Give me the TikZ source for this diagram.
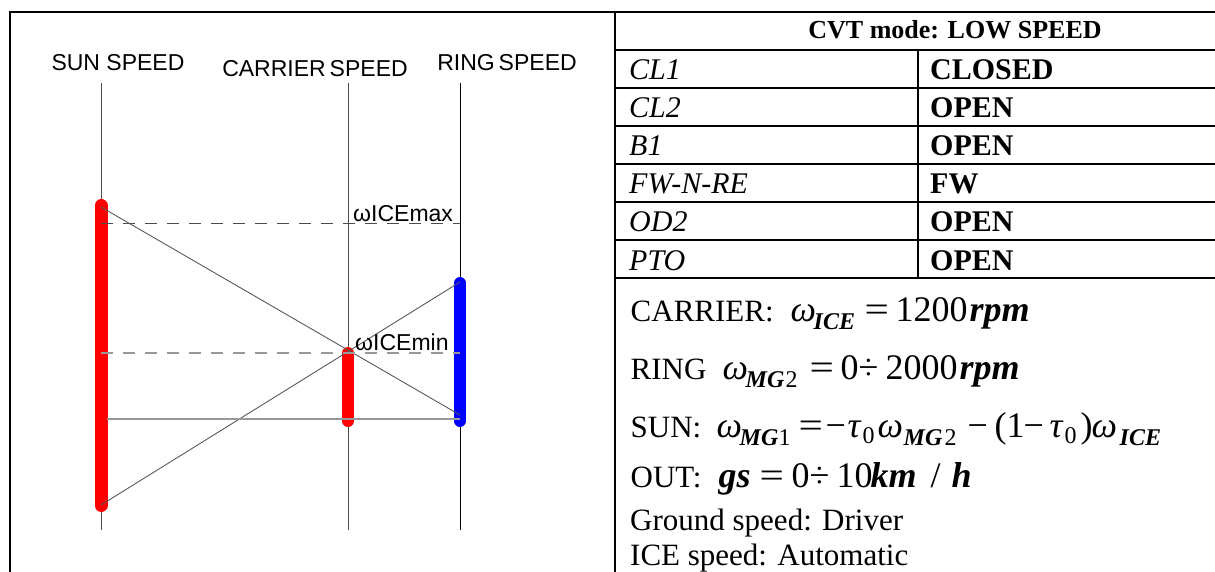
\documentclass[tikz,border=0pt]{standalone}
\usepackage{fontspec}
\setmainfont{Liberation Serif}
\newfontfamily\arialf{Liberation Sans}
\newcommand\at[2]{\rlap{\hspace{#1pt}#2}}
\newcommand\txfs{\fontsize{31}{31}\selectfont}
\newcommand\eqfs{\fontsize{36}{36}\selectfont}
\newcommand\sbfs{\fontsize{24}{24}\selectfont}
\newcommand\lsub[1]{\raisebox{-8pt}{\sbfs #1}}
\newcommand\tsub[1]{\raisebox{-6pt}{\sbfs #1}}
\newcommand\bi{\bfseries\itshape}
\newcommand\weq{\scalebox{1.2}[1]{=}}
\begin{document}
\begin{tikzpicture}[x=1pt,y=-1pt,
  frame/.style={line width=2.6pt,black},
  axis/.style={line width=1pt,black!70},
  bar/.style={line width=13pt,line cap=round},
  lever/.style={line width=0.9pt,black!65},
  dmax/.style={line width=0.9pt,black!70,dash pattern=on 12pt off 10pt},
  dmin/.style={line width=1.3pt,black!40,dash pattern=on 12pt off 10pt},
  base/.style={line width=1.6pt,black!40},
  lab/.style={anchor=base,inner sep=0pt,font=\arialf\fontsize{23}{23}\selectfont},
  wlab/.style={anchor=base west,inner sep=0pt,font=\arialf\fontsize{23}{23}\selectfont},
  cellL/.style={anchor=base west,inner sep=0pt,font=\fontsize{30}{30}\selectfont\itshape},
  cellR/.style={anchor=base west,inner sep=0pt,font=\fontsize{30}{30}\selectfont\bfseries},
  eqline/.style={anchor=base west,inner sep=0pt},
  txline/.style={anchor=base west,inner sep=0pt,font=\txfs}]
\useasboundingbox (0,0) rectangle (1215,572);
\clip (0,0) rectangle (1215,572);
% frame and table
\draw[frame] (10,600) -- (10,12) -- (1230,12);
\draw[frame] (615,12) -- (615,600);
\foreach \yy in {50,88,126,164,202,240,278} \draw[frame] (615,\yy) -- (1230,\yy);
\draw[frame] (918,50) -- (918,278);
% table text
\node[anchor=base,inner sep=0pt,font=\fontsize{26}{26}\selectfont\bfseries] (hdr) at (955,39) {CVT mode: LOW SPEED};
\node[cellL] (k1) at (629,80) {CL1};
\node[cellR] (v1) at (930,80) {CLOSED};
\node[cellL] (k2) at (629,118) {CL2};
\node[cellR] (v2) at (930,118) {OPEN};
\node[cellL] (k3) at (629,156) {B1};
\node[cellR] (v3) at (930,156) {OPEN};
\node[cellL] (k4) at (629,194) {FW-N-RE};
\node[cellR] (v4) at (930,194) {FW};
\node[cellL] (k5) at (629,232) {OD2};
\node[cellR] (v5) at (930,232) {OPEN};
\node[cellL] (k6) at (629,270) {PTO};
\node[cellR] (v6) at (930,270) {OPEN};
% equations
\node[eqline] (e1) at (628,321) {\at{2}{\txfs CARRIER:}\at{162}{\eqfs\itshape ω}\at{185}{\lsub{\bi ICE}}\at{236}{\eqfs\weq}\at{267}{\eqfs 1200}\at{341}{\eqfs\bi rpm}};
\node[eqline] (e2) at (628,379) {\at{2}{\txfs RING}\at{94}{\eqfs\itshape ω}\at{117}{\lsub{\bi MG}}\at{157}{\lsub{2}}\at{181}{\eqfs\weq}\at{212}{\eqfs 0}\at{230}{\eqfs ÷}\at{257}{\eqfs 2000}\at{331}{\eqfs\bi rpm}};
\node[eqline] (e3) at (628,437) {\at{2}{\txfs SUN:}\at{88}{\eqfs\itshape ω}\at{111}{\lsub{\bi MG}}\at{150}{\lsub{1}}\at{170}{\eqfs\weq}\at{197}{\eqfs −}\at{219}{\eqfs\itshape τ}\at{234}{\tsub{0}}\at{249}{\eqfs\itshape ω}\at{275}{\lsub{\bi MG}}\at{316}{\lsub{2}}\at{339}{\eqfs −}\at{366}{\eqfs (}\at{378}{\eqfs 1}\at{395}{\eqfs −}\at{421}{\eqfs\itshape τ}\at{436}{\tsub{0}}\at{452}{\eqfs )}\at{463}{\eqfs\itshape ω}\at{491}{\lsub{\bi ICE}}};
\node[eqline] (e4) at (628,487) {\at{2}{\txfs OUT:}\at{90}{\eqfs\bi gs}\at{131}{\eqfs\weq}\at{163}{\eqfs 0}\at{181}{\eqfs ÷}\at{208}{\eqfs 10}\at{242}{\eqfs\bi km}\at{302}{\eqfs /}\at{323}{\eqfs\bi h}};
\node[txline] (g1) at (630,530) {Ground speed: Driver};
\node[txline] (g2) at (630,565) {ICE speed: Automatic};
% lever diagram
\coordinate (sT) at (101,83);  \coordinate (sB) at (101,530);
\coordinate (cT) at (348,83);  \coordinate (cB) at (348,530);
\coordinate (rT) at (460,83);  \coordinate (rB) at (460,530);
\draw[axis] (sT) -- (sB);
\draw[axis] (cT) -- (cB);
\draw[line width=1pt,black] (rT) -- (rB);
\coordinate (sbar1) at (101,205.5); \coordinate (sbar2) at (101,505.5);
\coordinate (cbar1) at (348,353);   \coordinate (cbar2) at (348,421);
\coordinate (rbar1) at (460,283);   \coordinate (rbar2) at (460,421);
\draw[bar,red] (sbar1) -- (sbar2);
\draw[bar,red,line width=12pt] (cbar1) -- (cbar2);
\draw[bar,blue,line width=12pt] (rbar1) -- (rbar2);
\coordinate (d1a) at (101,207); \coordinate (d1b) at (460,415);
\coordinate (d2a) at (101,505); \coordinate (d2b) at (460,282);
\draw[lever] (d1a) -- (d1b);
\draw[lever] (d2a) -- (d2b);
\coordinate (mxa) at (101,223); \coordinate (mxb) at (460,223);
\coordinate (mna) at (101,353); \coordinate (mnb) at (460,353);
\draw[dmax] (mxa) -- (mxb);
\draw[dmin] (mna) -- (mnb);
\coordinate (ba) at (107,419); \coordinate (bb) at (460,419);
\draw[base] (ba) -- (bb);
\node[lab] (sunlab) at (118,71) {SUN SPEED};
\node[lab] (carlab) at (315,77) {CARRIER\hspace{4pt}SPEED};
\node[lab] (rinlab) at (507,71) {RING\hspace{4pt}SPEED};
\node[wlab] (icemax) at (353,222) {ωICEmax};
\node[wlab] (icemin) at (355,350) {ωICEmin};
\end{tikzpicture}
\end{document}
